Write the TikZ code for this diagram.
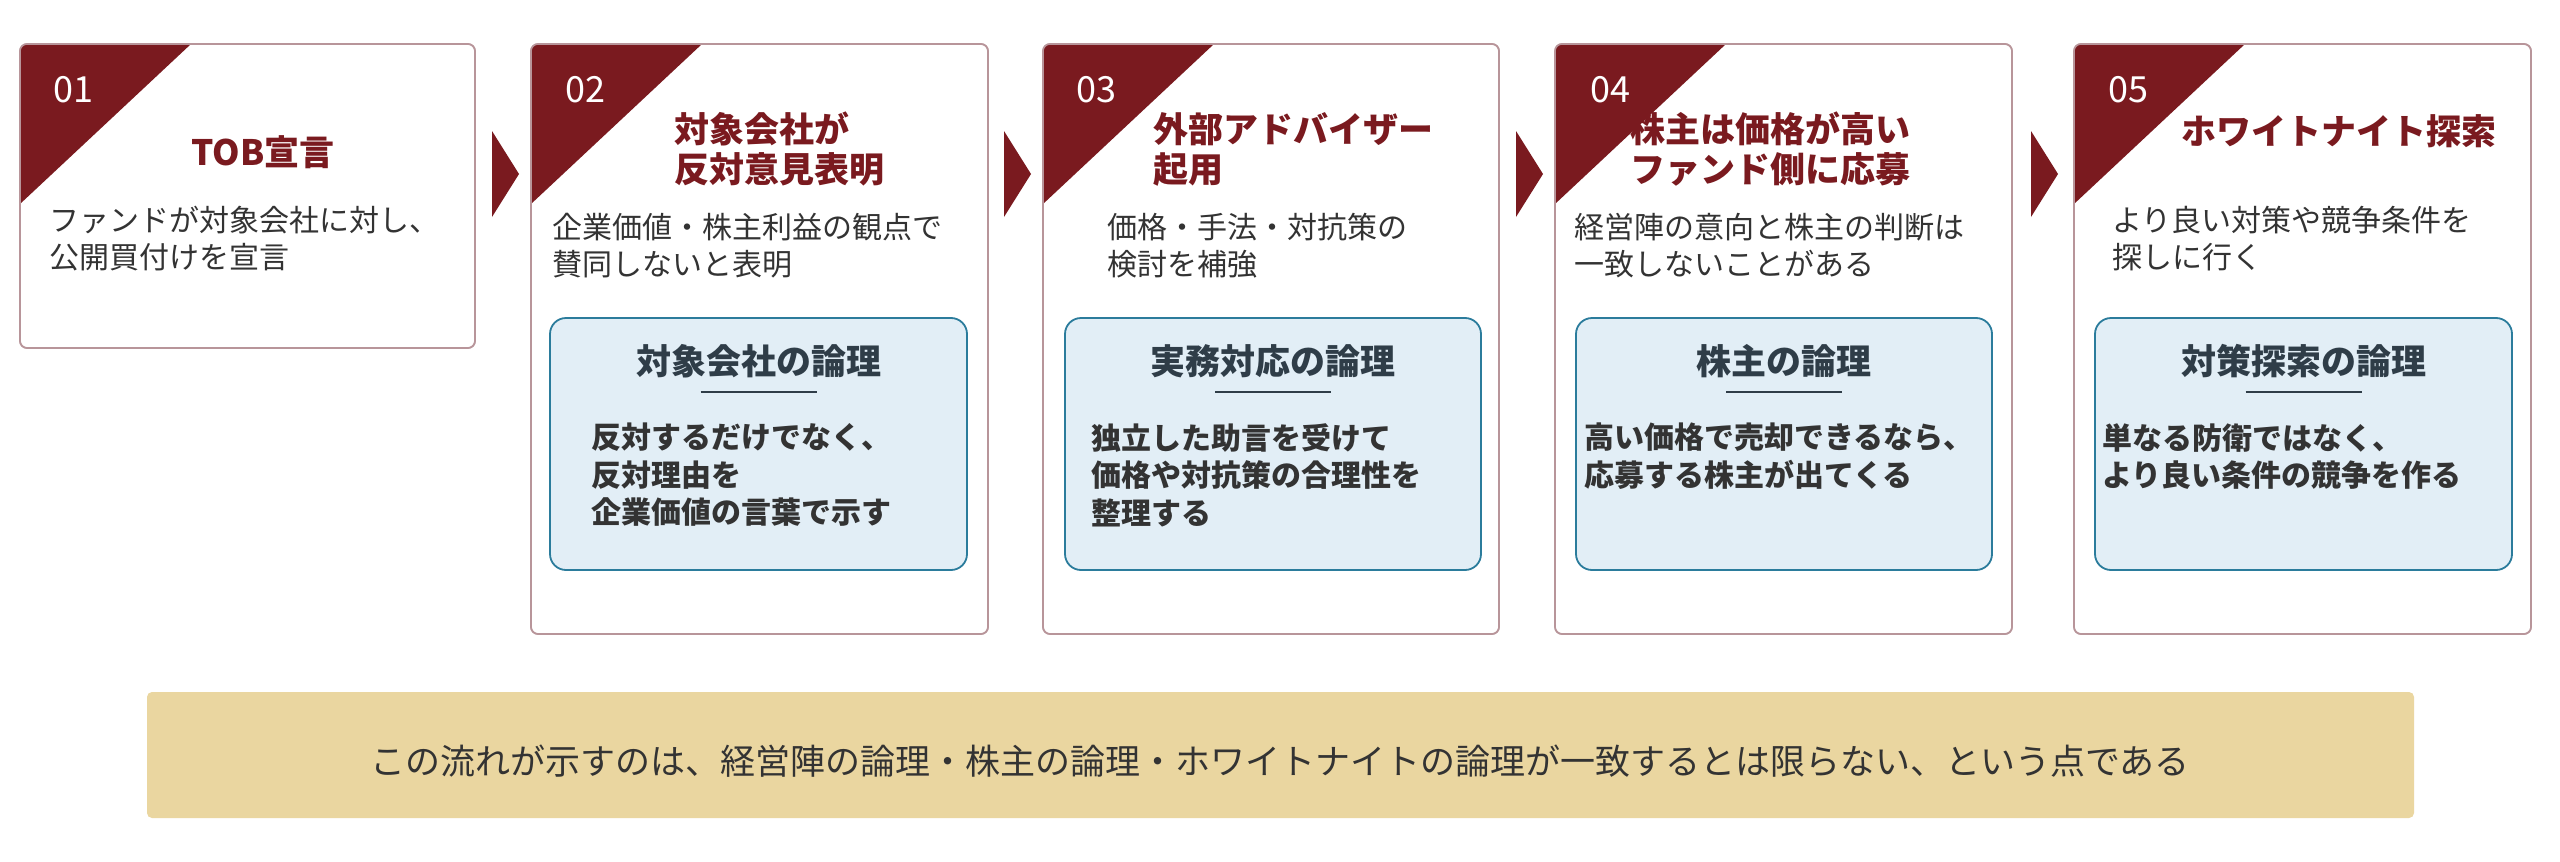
\documentclass[tikz,border=0pt]{standalone}
\usepackage{fontspec}
\setmainfont{Noto Sans CJK JP}
\definecolor{dred}{HTML}{7A1A1F}
\definecolor{cardline}{HTML}{B8959A}
\definecolor{boxfill}{HTML}{E2EEF6}
\definecolor{boxline}{HTML}{2B7C9C}
\definecolor{txt}{HTML}{333333}
\definecolor{hdr}{HTML}{2F3D48}
\definecolor{banner}{HTML}{EAD6A0}
\tikzset{
 card/.style={draw=cardline,line width=1.6pt,rounded corners=7pt,fill=white},
 lbox/.style={draw=boxline,line width=1.8pt,rounded corners=16pt,fill=boxfill},
 num/.style={text=white,font=\fontsize{36}{40}\selectfont,inner sep=0},
 ttl/.style={text=dred,font=\fontsize{35}{40}\selectfont\bfseries,inner sep=0},
 body/.style={text=txt,font=\fontsize{30}{37}\selectfont,inner sep=0,anchor=north west,align=left},
 bhdr/.style={text=hdr,font=\fontsize{35}{40}\selectfont\bfseries,inner sep=0},
 bbody/.style={text=txt,font=\fontsize{30}{37.5}\selectfont\bfseries,inner sep=0,anchor=north west,align=left},
 arr/.style={fill=dred,draw=none},
}
\begin{document}
\begin{tikzpicture}[x=1pt,y=-1pt]
\useasboundingbox (0,0) rectangle (2560,862);
\fill[white] (0,0) rectangle (2560,862);
% cards
\foreach \xa/\xb/\yb/\n in {20/475/348/c1,531/988/634/c2,1043/1499/634/c3,1555/2012/634/c4,2074/2531/634/c5}{
  \draw[card] (\xa,44) rectangle (\xb,\yb);
  \begin{scope}
   \clip[rounded corners=7pt] (\xa,44) rectangle (\xb,\yb);
   \fill[dred] (\xa,44) -- ({\xa+171},44) -- (\xa,204) -- cycle;
  \end{scope}
  \draw[cardline,line width=1.6pt,rounded corners=7pt] (\xa,44) rectangle (\xb,\yb);
}
% arrows
\foreach \xa in {492,1004,1516,2031}{
  \fill[arr] (\xa,131) -- ({\xa+27},174) -- (\xa,217) -- cycle;
}
% numbers
\node[num] (n1) at (73,90) {01};
\node[num] (n2) at (585,90) {02};
\node[num] (n3) at (1096,90) {03};
\node[num] (n4) at (1610,90) {04};
\node[num] (n5) at (2128,90) {05};
% titles
\node[ttl] (t1) at (263,152) {TOB宣言};
\node[ttl,anchor=north west,align=left,font=\fontsize{35}{40}\selectfont\bfseries] (t2) at (674,112) {対象会社が\\反対意見表明};
\node[ttl,anchor=north west,align=left] (t3) at (1153,112) {外部アドバイザー\\起用};
\node[ttl,anchor=north,align=center] (t4) at (1770,112) {株主は価格が高い\\ファンド側に応募};
\node[ttl] (t5) at (2339,131) {ホワイトナイト探索};
% bodies
\node[body] (b1) at (49,206) {ファンドが対象会社に対し、\\公開買付けを宣言};
\node[body] (b2) at (552,213) {企業価値・株主利益の観点で\\賛同しないと表明};
\node[body] (b3) at (1107,213) {価格・手法・対抗策の\\検討を補強};
\node[body] (b4) at (1574,213) {経営陣の意向と株主の判断は\\一致しないことがある};
\node[body] (b5) at (2112,206) {より良い対策や競争条件を\\探しに行く};
% logic boxes
\foreach \xa/\xb/\h/\bx/\bodytext in {
 550/967/対象会社の論理/591/{反対するだけでなく、\\反対理由を\\企業価値の言葉で示す},
 1065/1481/実務対応の論理/1091/{独立した助言を受けて\\価格や対抗策の合理性を\\整理する},
 1576/1992/株主の論理/1584/{高い価格で売却できるなら、\\応募する株主が出てくる},
 2095/2512/対策探索の論理/2102/{単なる防衛ではなく、\\より良い条件の競争を作る}}{
  \draw[lbox] (\xa,318) rectangle (\xb,570);
  \node[bhdr] at ({(\xa+\xb)/2},361) {\h};
  \draw[hdr,line width=2pt] ({(\xa+\xb)/2-58},392) -- ({(\xa+\xb)/2+58},392);
  \node[bbody] at (\bx,423) {\bodytext};
}
% banner
\fill[banner,rounded corners=5pt] (147,692) rectangle (2414,818);
\node[text=txt,font=\fontsize{35}{40}\selectfont,inner sep=0] (bn) at (1280,761) {この流れが示すのは、経営陣の論理・株主の論理・ホワイトナイトの論理が一致するとは限らない、という点である};
\end{tikzpicture}
\end{document}
